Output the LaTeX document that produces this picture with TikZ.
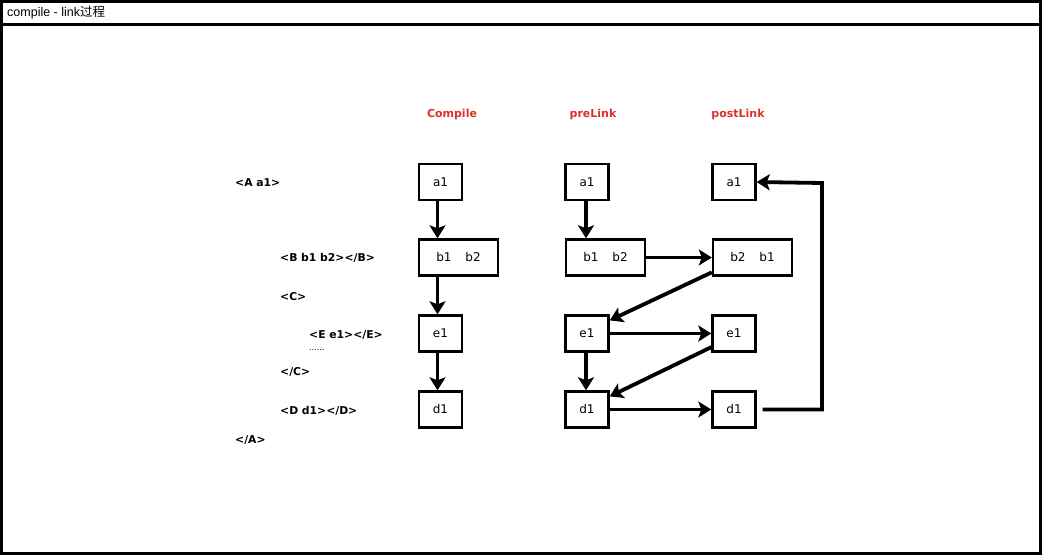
\documentclass[tikz,border=0pt]{standalone}
\usepackage{fontspec}
\setmainfont{DejaVu Sans}
\newfontfamily\titlefont{Liberation Sans}
\newfontfamily\cjkfont{Noto Sans CJK SC}
\usetikzlibrary{arrows.meta,calc}
\definecolor{hdred}{RGB}{218,48,44}
\tikzset{
  box/.style={draw, line width=2.4pt, minimum width=43pt, minimum height=36pt, inner sep=0pt, font=\fontsize{12}{13}\selectfont},
  wbox/.style={box, minimum width=79pt},
  arr/.style={line width=3.8pt, -{Stealth[length=13pt,width=16pt,inset=3pt]}},
  hdr/.style={font=\bfseries\fontsize{11}{12}\selectfont, text=hdred},
  code/.style={anchor=west, inner sep=0pt, font=\bfseries\fontsize{10.8}{12}\selectfont},
  frame/.style={draw, line width=2.2pt}
}
\begin{document}
\begin{tikzpicture}[x=1pt,y=-1pt]
\useasboundingbox (0,0) rectangle (1042,555);
\draw[frame] (1.5,1.5) rectangle (1040.5,553.5);
\draw[frame] (1.5,24.5) -- (1040.5,24.5);
\node[anchor=west, inner sep=0pt, font=\fontsize{12.5}{14}\selectfont] (title) at (7,13) {\titlefont compile - link\cjkfont 过程};

% headers
\node[hdr] (hc) at (452,114) {Compile};
\node[hdr] (hp) at (593,114) {preLink};
\node[hdr] (hq) at (738,114) {postLink};

% code text
\node[code] (t1) at (235,183) {<A a1>};
\node[code] (t2) at (280,258) {<B b1 b2></B>};
\node[code] (t3) at (280,297) {<C>};
\node[code] (t4) at (309,335) {<E e1></E>};
\node[code, font=\fontsize{8}{9}\selectfont] (t5) at (309,350) {......};
\node[code] (t6) at (280,372) {</C>};
\node[code] (t7) at (280,411) {<D d1></D>};
\node[code] (t8) at (235,440) {</A>};

% compile column
\node[box] (ca) at (440.5,182) {a1};
\node[wbox] (cb) at (458.5,257.5) {b1\hspace{14pt}b2};
\node[box] (ce) at (440.5,333.5) {e1};
\node[box] (cd) at (440.5,409.5) {d1};

% prelink column
\node[box] (pa) at (587,182) {a1};
\node[wbox] (pb) at (605.5,257.5) {b1\hspace{14pt}b2};
\node[box] (pe) at (587,333.5) {e1};
\node[box] (pd) at (587,409.5) {d1};

% postlink column
\node[box] (qa) at (734,182) {a1};
\node[wbox] (qb) at (752.5,257.5) {b2\hspace{14pt}b1};
\node[box] (qe) at (734,333.5) {e1};
\node[box] (qd) at (734,409.5) {d1};

\coordinate (turn) at (822,183);

% compile arrows
\draw[arr] ([xshift=-3pt]ca.south) -- ([xshift=-3pt]ca.south |- cb.north);
\draw[arr] ([xshift=-3pt]cb.south -| ce.north) -- ([xshift=-3pt]ce.north);
\draw[arr] ([xshift=-3pt]ce.south) -- ([xshift=-3pt]cd.north);

% prelink arrows
\draw[arr] ([xshift=-1pt]pa.south) -- ([xshift=-1pt]pa.south |- pb.north);
\draw[arr] ([xshift=-1pt]pe.south) -- ([xshift=-1pt]pd.north);

% cross arrows
\draw[arr] (pb.east) -- (qb.west);
\draw[arr] (qb.200) -- (pe.30);
\draw[arr] (pe.east) -- (qe.west);
\draw[arr] (qe.211) -- (pd.30);
\draw[arr] (pd.east) -- (qd.west);
\draw[arr] ([xshift=6pt]qd.east) -- (qd.east -| turn) -- (turn) -- (qa.east);
\end{tikzpicture}
\end{document}
